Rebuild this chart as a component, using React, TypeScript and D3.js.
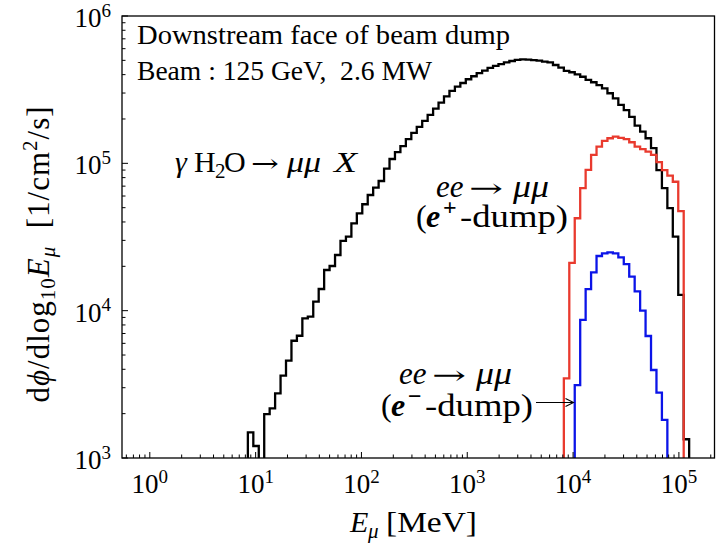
import React from "react";
import * as d3 from "d3";

// ---- data ----
const E_BEAM_MEV = 125000; // upper bin edge (MeV)
const N_EDGES = 100; // log-spaced bin edges from 1 MeV to E_BEAM
const X_DOMAIN: [number, number] = [0.546, 2.17e5];
const Y_DOMAIN: [number, number] = [1e3, 1e6];

const BLACK_FIRST_BIN = 18;
const BLACK_VALUES = [
  1493, 1206, 0, 1983, 2173, 2747, 3620, 4575, 6250, 6755,
  8870, 9100, 11500, 14030, 18880, 20100, 23870, 29720, 31770, 39170,
  45800, 52750, 60960, 68350, 75900, 92000, 107000, 119000, 131000, 146000,
  161000, 177000, 194000, 213000, 235000, 258000, 285000, 310000, 332000, 351000,
  372000, 390000, 410000, 426000, 444000, 458000, 472000, 485000, 495000, 503000,
  508000, 506000, 502000, 498000, 490000, 485000, 465000, 446000, 424000, 415000,
  402000, 387000, 368000, 355000, 340000, 323000, 299000, 276000, 249000, 230000,
  207000, 180000, 164000, 148000, 127000, 90000, 67800, 49600, 31800, 12800,
  1340,
];

const RED_FIRST_BIN = 76;
const RED_VALUES = [
  3475, 21100, 42400, 67800, 90200, 114000, 130000, 142000, 148000, 152000,
  149000, 146000, 139000, 130000, 125000, 120000, 114000, 102000, 90000, 82500,
  75000, 47400,
];

const BLUE_FIRST_BIN = 78;
const BLUE_VALUES = [
  3125, 8650, 14000, 18200, 23500, 24500, 24900, 24500, 23000, 20700,
  17000, 13500, 10000, 6730, 3955, 2775, 1812,
];

const X_TICK_EXPONENTS = [0, 1, 2, 3, 4, 5];
const Y_TICK_EXPONENTS = [3, 4, 5, 6];

// ---- layout / style ----
const W = 717;
const H = 547;
const PL = 122;
const PR = 714.5;
const PT = 16;
const PB = 458;
const FONT = "'Liberation Serif', 'DejaVu Serif', serif";
const ARROW_FONT = "'DejaVu Serif', 'DejaVu Sans', serif";
const BLACK = "#000000";
const RED = "#e93a2e";
const BLUE = "#0b14e8";

const edges = d3
  .range(N_EDGES)
  .map((k) => Math.pow(10, (k * Math.log10(E_BEAM_MEV)) / (N_EDGES - 1)));

const x = d3.scaleLog().domain(X_DOMAIN).range([PL, PR]);
const y = d3.scaleLog().domain(Y_DOMAIN).range([PB, PT]);

function stepPath(first: number, values: number[]): string {
  const floor = 1;
  const pts: [number, number][] = [];
  pts.push([edges[first], floor]);
  values.forEach((v, i) => {
    const val = v > 0 ? v : floor;
    pts.push([edges[first + i], val]);
    pts.push([edges[first + i + 1], val]);
  });
  pts.push([edges[first + values.length], floor]);
  const line = d3
    .line<[number, number]>()
    .x((d) => x(d[0]))
    .y((d) => y(d[1]));
  return line(pts) || "";
}

type RunProps = {
  x: number;
  y: number;
  size: number;
  italic?: boolean;
  bold?: boolean;
  anchor?: "start" | "middle" | "end";
  len?: number;
  font?: string;
  children: React.ReactNode;
};

function Run({ x, y, size, italic, bold, anchor, len, font, children }: RunProps) {
  return (
    <text
      x={x}
      y={y}
      fontSize={size}
      fontStyle={italic ? "italic" : "normal"}
      fontWeight={bold ? "bold" : "normal"}
      textAnchor={anchor || "start"}
      fontFamily={font || FONT}
      textLength={len}
      lengthAdjust={len ? "spacingAndGlyphs" : undefined}
      fill="#000"
    >
      {children}
    </text>
  );
}

function EeLine({ left, base }: { left: number; base: number }) {
  return (
    <g>
      <Run x={left} y={base} size={31} italic>ee</Run>
      <Run x={left + 33} y={base} size={26} font={ARROW_FONT} len={34}>→</Run>
      <Run x={left + 77} y={base} size={31} italic len={36}>μμ</Run>
    </g>
  );
}

function DumpLine({ left, base, sign }: { left: number; base: number; sign: string }) {
  return (
    <g>
      <Run x={left} y={base} size={32}>(</Run>
      <Run x={left + 10} y={base} size={32} italic bold>e</Run>
      <Run x={left + 27} y={base - 12} size={24} bold>{sign}</Run>
      <Run x={left + 44} y={base} size={32} len={108}>-dump)</Run>
    </g>
  );
}

export default function App() {
  const xTicks = x.ticks();
  const yTicks = y.ticks();
  const isMajor = (v: number) => Math.abs(Math.log10(v) - Math.round(Math.log10(v))) < 1e-6;

  return (
    <svg
      width={W}
      height={H}
      viewBox={`0 0 ${W} ${H}`}
      style={{ position: "fixed", left: 0, top: 0, background: "#fff" }}
      fontFamily={FONT}
    >
      <rect x={0} y={0} width={W} height={H} fill="#fff" />
      <defs>
        <clipPath id="plotclip">
          <rect x={PL} y={PT} width={PR - PL} height={PB - PT} />
        </clipPath>
      </defs>

      {/* histograms */}
      <g clipPath="url(#plotclip)" fill="none" strokeWidth={2.3} strokeLinejoin="miter">
        <path d={stepPath(BLACK_FIRST_BIN, BLACK_VALUES)} stroke={BLACK} />
        <path d={stepPath(RED_FIRST_BIN, RED_VALUES)} stroke={RED} />
        <path d={stepPath(BLUE_FIRST_BIN, BLUE_VALUES)} stroke={BLUE} />
      </g>

      {/* ticks */}
      <g stroke="#000" strokeWidth={1}>
        {xTicks
          .filter((t) => t >= X_DOMAIN[0] && t <= X_DOMAIN[1])
          .map((t, i) => (
            <line key={"xt" + i} x1={x(t)} x2={x(t)} y1={PB} y2={PB - (isMajor(t) ? 6 : 3.5)} />
          ))}
        {yTicks.map((t, i) => (
          <line key={"yt" + i} x1={PL} x2={PL + (isMajor(t) ? 6 : 3.5)} y1={y(t)} y2={y(t)} />
        ))}
      </g>

      {/* frame */}
      <rect x={PL} y={PT} width={PR - PL} height={PB - PT} fill="none" stroke="#000" strokeWidth={1.3} />

      {/* tick labels */}
      <g fontSize={27} fill="#000">
        {X_TICK_EXPONENTS.map((e) => (
          <text key={"xl" + e} x={x(Math.pow(10, e))} y={493} textAnchor="middle">
            10
            <tspan fontSize={19} dy={-10.5}>
              {e}
            </tspan>
          </text>
        ))}
        {Y_TICK_EXPONENTS.map((e) => (
          <text key={"yl" + e} x={111} y={y(Math.pow(10, e)) + 11} textAnchor="end">
            10
            <tspan fontSize={19} dy={-10.5}>
              {e}
            </tspan>
          </text>
        ))}
      </g>

      {/* x axis label */}
      <Run x={350} y={532} size={30} italic>E</Run>
      <Run x={368} y={538} size={21} italic>μ</Run>
      <Run x={386} y={532} size={30} len={91}>[MeV]</Run>

      {/* y axis label */}
      <text
        transform="translate(49,254) rotate(-90)"
        fontSize={31}
        textAnchor="middle"
        letterSpacing={1}
        fill="#000"
      >
        <tspan>d</tspan>
        <tspan fontStyle="italic">ϕ</tspan>
        <tspan>/dlog</tspan>
        <tspan fontSize={21} dy={6}>10</tspan>
        <tspan fontStyle="italic" dy={-6}>E</tspan>
        <tspan fontStyle="italic" fontSize={21} dy={6}>μ</tspan>
        <tspan dy={-6}>{"\u00a0\u00a0[1/cm"}</tspan>
        <tspan fontSize={21} dy={-12}>2</tspan>
        <tspan dy={12}>/s]</tspan>
      </text>

      {/* annotations */}
      <text x={137} y={44} fontSize={27} textLength={373} lengthAdjust="spacingAndGlyphs" fill="#000">
        Downstream face of beam dump
      </text>
      <text x={137} y={80} fontSize={27} textLength={295} lengthAdjust="spacingAndGlyphs" fill="#000">
        {"Beam\u00a0:\u00a0125\u00a0GeV,\u00a0\u00a02.6\u00a0MW"}
      </text>

      <Run x={175} y={172} size={30} italic>γ</Run>
      <Run x={194} y={172} size={30}>H</Run>
      <Run x={215} y={178} size={21}>2</Run>
      <Run x={224} y={172} size={30}>O</Run>
      <Run x={251} y={172} size={25} font={ARROW_FONT} len={28}>→</Run>
      <Run x={287} y={172} size={30} italic len={34}>μμ</Run>
      <Run x={334} y={172} size={30} italic len={23}>X</Run>

      <EeLine left={436} base={197} />
      <DumpLine left={416} base={227} sign="+" />

      <EeLine left={399} base={384} />
      <DumpLine left={381} base={416} sign="−" />

      {/* arrow */}
      <g stroke="#000" strokeWidth={1.1} fill="none">
        <line x1={536} y1={402.5} x2={573.5} y2={402.5} />
        <path d="M565.5,398.5 L573.5,402.5 L565.5,406.5" />
      </g>
    </svg>
  );
}
